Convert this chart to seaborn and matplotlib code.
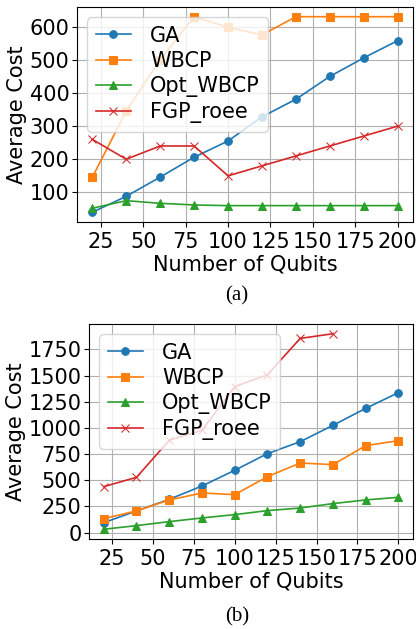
import numpy as np
import pandas as pd
import matplotlib
matplotlib.use("Agg")
import matplotlib.pyplot as plt
import seaborn as sns

qubits = [20, 40, 60, 80, 100, 120, 140, 160, 180, 200]

# panel (a)
ga_a = [40, 88, 146, 206, 255, 328, 381, 450, 506, 558]
wbcp_a = [145, 345, 500, 630, 598, 575, 630, 630, 630, 630]
opt_a = [52, 75, 67, 62, 60, 60, 60, 60, 60, 60]
fgp_a = [260, 200, 240, 240, 150, 180, 210, 240, 270, 300]

# panel (b)
ga_b = [95, 207, 318, 445, 595, 754, 868, 1024, 1186, 1336]
wbcp_b = [134, 207, 312, 378, 363, 534, 665, 649, 830, 878]
opt_b = [32, 67, 105, 140, 172, 210, 235, 277, 312, 337]
fgp_b = [439, 528, 881, 977, 1393, 1507, 1854, 1899, np.nan, np.nan]

names = ["GA", "WBCP", "Opt_WBCP", "FGP_roee"]
markers = ["o", "s", "^", "x"]
colors = sns.color_palette("tab10", 4)

plt.rcParams['font.family'] = ['DejaVu Sans']
fig = plt.figure(figsize=(4.16, 6.29), dpi=100)
ax_a = fig.add_axes([0.185, 0.647, 0.808, 0.342])
ax_b = fig.add_axes([0.214, 0.143, 0.779, 0.342])


def draw(ax, series):
    for name, ys, m, c in zip(names, series, markers, colors):
        df = pd.DataFrame({"q": qubits, "cost": ys})
        sns.lineplot(data=df, x="q", y="cost", ax=ax, marker=m, color=c,
                     label=name, markersize=5.5, markeredgecolor=c, linewidth=1.2)
    ax.grid(True, color="#b0b0b0", linewidth=0.8)
    ax.set_xticks([25, 50, 75, 100, 125, 150, 175, 200])
    ax.tick_params(labelsize=15)
    ax.tick_params(axis="y", pad=2)
    ax.set_xlabel("Number of Qubits", fontsize=15, labelpad=2)
    ax.set_ylabel("Average Cost", fontsize=15, labelpad=2)
    ax.legend(loc="upper left", fontsize=15, handlelength=1.7, handletextpad=0.9,
              labelspacing=0.25, framealpha=0.8)


draw(ax_a, [ga_a, wbcp_a, opt_a, fgp_a])
draw(ax_b, [ga_b, wbcp_b, opt_b, fgp_b])
ax_a.set_yticks([100, 200, 300, 400, 500, 600])
ax_b.set_yticks([0, 250, 500, 750, 1000, 1250, 1500, 1750])

fig.text(0.57, 1 - 296 / 629, "(a)", ha="center", va="center", fontsize=15, family="Liberation Serif")
fig.text(0.57, 1 - 617 / 629, "(b)", ha="center", va="center", fontsize=15, family="Liberation Serif")

fig.savefig("out.png", dpi=100)
